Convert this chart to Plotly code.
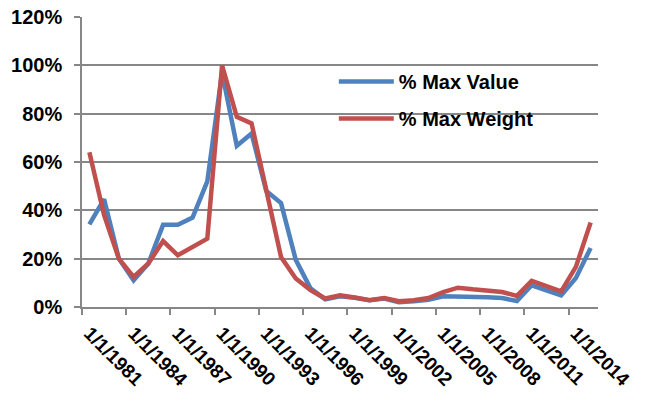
import plotly.graph_objects as go

# Annual observations, 1/1/1981 through 1/1/2015
years = list(range(1981, 2016))
dates = [f"1/1/{y}" for y in years]

# Share of the series maximum (percent)
max_value_pct = [34.2, 44.6, 20.0, 11.0, 18.0, 34.0, 34.0, 37.0, 52.0, 97.0,
                 66.7, 71.8, 48.0, 43.0, 19.5, 7.7, 3.2, 4.4, 3.8, 2.8,
                 3.5, 2.0, 2.4, 3.0, 4.4, 4.4, 4.2, 4.0, 3.7, 2.5,
                 9.0, 7.0, 4.8, 12.0, 24.4]
max_weight_pct = [64.0, 38.0, 20.0, 12.4, 18.0, 27.3, 21.4, 24.8, 28.3, 100.0,
                  78.7, 76.0, 47.6, 20.7, 11.8, 7.0, 3.5, 4.8, 3.9, 2.8,
                  3.7, 2.4, 2.8, 3.7, 6.2, 8.0, 7.3, 6.6, 6.2, 4.6,
                  10.8, 8.6, 6.5, 16.6, 35.0]

# Axis labels every third year
label_step = 3
label_idx = list(range(0, len(dates), label_step))
label_text = [dates[i] for i in label_idx]

FONT = "Liberation Sans, Arial, sans-serif"
GRID = "#878787"

x = list(range(len(dates)))

fig = go.Figure()
fig.add_trace(go.Scatter(
    x=x, y=[v / 100 for v in max_value_pct], mode="lines",
    name="% Max Value", legendgroup="a",
    line=dict(color="#4F81BD", width=4.5),
    customdata=dates, hovertemplate="%{customdata}: %{y:.1%}<extra></extra>",
))
fig.add_trace(go.Scatter(
    x=x, y=[v / 100 for v in max_weight_pct], mode="lines",
    name="% Max Weight", legendgroup="b",
    line=dict(color="#C0504D", width=4.5),
    customdata=dates, hovertemplate="%{customdata}: %{y:.1%}<extra></extra>",
))

fig.update_layout(
    width=647, height=399,
    margin=dict(l=82, r=49, t=17, b=92, autoexpand=False),
    paper_bgcolor="white", plot_bgcolor="white",
    font=dict(family=FONT, size=19, color="black"),
    showlegend=True,
    legend=dict(
        x=0.488, y=0.845, xanchor="left", yanchor="top",
        bgcolor="rgba(0,0,0,0)", tracegroupgap=8, itemwidth=55,
        font=dict(family=FONT, size=20, color="black", weight="bold"),
    ),
)

fig.update_xaxes(
    range=[-0.5, len(dates) - 0.5], automargin=False,
    tickmode="array", tickvals=label_idx, ticktext=label_text,
    tickangle=45, ticks="", ticklabelstandoff=6,
    tickfont=dict(family=FONT, size=19, color="black", weight="bold"),
    showgrid=False, zeroline=False,
    showline=True, linecolor=GRID, linewidth=1.5,
    minor=dict(tick0=-0.5, dtick=label_step, ticks="outside",
               ticklen=6, tickcolor=GRID, tickwidth=1.5, showgrid=False),
)

fig.update_yaxes(
    range=[0, 1.2], dtick=0.2, tick0=0, tickformat=".0%", automargin=False,
    ticks="outside", ticklen=6, tickcolor=GRID, tickwidth=1.5,
    ticklabelstandoff=8,
    tickfont=dict(family=FONT, size=20, color="black", weight="bold"),
    showgrid=True, gridcolor=GRID, gridwidth=1.5,
    zeroline=False,
    showline=True, linecolor=GRID, linewidth=1.5,
)

fig.write_html("out.html")
